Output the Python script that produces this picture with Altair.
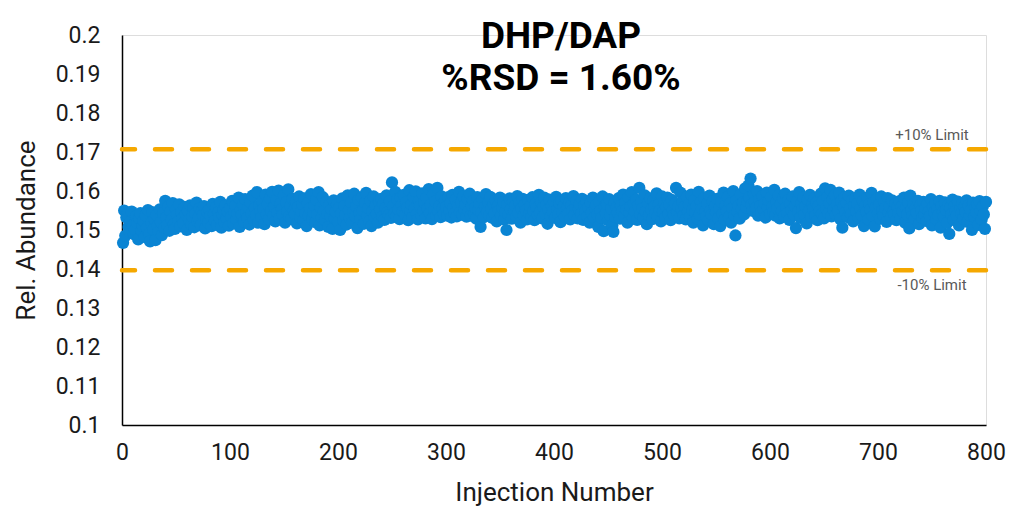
import altair as alt
import pandas as pd

# Relative abundance per injection, in units of 1e-4 (e.g. 1552 -> 0.1552), injections 1..800
rel_abundance_x1e4 = [
    1467,1550,1485,1532,1541,1508,1495,1522,1547,1513,1489,1501,1535,1518,1476,1529,1543,1498,1510,1524,
    1482,1537,1505,1551,1490,1471,1519,1546,1502,1528,1474,1539,1511,1495,1553,1520,1487,1544,1506,1575,
    1532,1512,1561,1498,1547,1527,1569,1515,1503,1552,1538,1521,1566,1509,1545,1530,1517,1559,1541,1500,
    1548,1526,1563,1514,1535,1557,1507,1543,1570,1522,1531,1555,1512,1549,1538,1561,1504,1528,1546,1519,
    1553,1536,1510,1567,1541,1524,1558,1513,1545,1532,1572,1506,1539,1551,1520,1563,1529,1547,1511,1556,
    1534,1575,1517,1548,1562,1527,1541,1583,1508,1552,1538,1566,1521,1579,1545,1531,1559,1514,1570,1543,
    1588,1526,1556,1537,1597,1519,1563,1548,1532,1574,1554,1515,1591,1540,1566,1527,1582,1549,1598,1536,
    1560,1522,1577,1545,1601,1530,1568,1553,1539,1589,1519,1571,1547,1604,1535,1562,1528,1580,1550,1541,
    1573,1517,1559,1586,1532,1548,1566,1524,1581,1543,1510,1569,1537,1555,1592,1527,1546,1563,1520,1578,
    1540,1597,1512,1558,1533,1584,1549,1525,1572,1541,1508,1564,1536,1553,1503,1576,1529,1547,1566,1521,
    1557,1500,1543,1581,1525,1562,1538,1514,1589,1551,1530,1571,1519,1546,1593,1535,1560,1505,1577,1544,
    1528,1584,1550,1516,1569,1595,1537,1556,1522,1575,1510,1548,1586,1533,1563,1541,1519,1572,1552,1580,
    1534,1567,1526,1557,1589,1545,1538,1574,1531,1622,1561,1543,1598,1536,1579,1552,1528,1583,1564,1547,
    1590,1539,1571,1557,1525,1602,1548,1566,1533,1585,1554,1599,1541,1527,1575,1561,1537,1594,1549,1570,
    1530,1582,1556,1605,1544,1565,1528,1591,1551,1573,1538,1608,1547,1562,1533,1586,1555,1541,1576,1559,
    1537,1584,1549,1569,1532,1590,1556,1543,1578,1535,1563,1598,1545,1571,1539,1587,1553,1566,1534,1580,
    1548,1593,1537,1562,1575,1541,1557,1529,1584,1551,1568,1508,1545,1579,1533,1560,1592,1547,1571,1538,
    1585,1554,1531,1567,1543,1576,1522,1561,1549,1583,1536,1558,1572,1527,1545,1500,1566,1540,1581,1553,
    1529,1574,1548,1562,1535,1587,1544,1570,1519,1556,1580,1538,1565,1550,1527,1577,1543,1561,1532,1584,
    1549,1525,1568,1557,1539,1590,1546,1571,1530,1559,1583,1541,1566,1516,1553,1578,1535,1562,1547,1574,
    1531,1585,1552,1540,1568,1520,1576,1545,1561,1534,1582,1556,1542,1571,1527,1564,1549,1587,1538,1559,
    1575,1530,1553,1567,1541,1580,1526,1562,1548,1574,1535,1558,1519,1570,1545,1583,1532,1556,1564,1540,
    1508,1572,1549,1531,1586,1497,1561,1543,1566,1525,1579,1538,1554,1512,1495,1569,1533,1557,1545,1582,
    1529,1563,1548,1591,1536,1570,1552,1519,1584,1544,1560,1597,1531,1567,1548,1578,1526,1562,1608,1540,
    1573,1555,1533,1589,1547,1515,1569,1538,1581,1553,1528,1575,1561,1542,1594,1534,1566,1550,1522,1586,
    1546,1570,1531,1559,1583,1541,1565,1525,1577,1552,1538,1568,1608,1544,1561,1530,1596,1555,1572,1537,
    1560,1527,1585,1548,1566,1533,1591,1551,1519,1576,1545,1562,1529,1598,1540,1571,1554,1512,1582,1548,
    1535,1567,1524,1588,1550,1539,1574,1515,1561,1545,1580,1530,1556,1510,1572,1541,1596,1527,1563,1549,
    1585,1533,1568,1519,1555,1600,1538,1486,1576,1547,1562,1529,1591,1554,1570,1540,1607,1558,1574,1614,
    1583,1632,1565,1549,1592,1571,1556,1600,1537,1578,1562,1545,1587,1553,1569,1532,1596,1558,1575,1541,
    1584,1560,1546,1603,1537,1572,1555,1589,1530,1566,1548,1581,1535,1593,1557,1543,1577,1526,1568,1551,
    1586,1539,1562,1505,1575,1547,1597,1531,1569,1553,1583,1540,1561,1517,1578,1549,1590,1534,1566,1554,
    1581,1537,1571,1525,1562,1548,1593,1541,1575,1530,1607,1556,1584,1543,1569,1603,1535,1578,1552,1590,
    1539,1566,1549,1596,1528,1574,1506,1559,1584,1545,1570,1533,1588,1555,1540,1576,1522,1562,1581,1547,
    1568,1531,1591,1554,1538,1574,1510,1561,1547,1583,1527,1566,1552,1595,1536,1571,1509,1558,1580,1543,
    1565,1529,1586,1550,1537,1573,1556,1521,1582,1545,1562,1533,1576,1548,1539,1568,1525,1559,1542,1574,
    1530,1561,1547,1583,1519,1556,1540,1570,1504,1588,1551,1536,1566,1528,1557,1543,1575,1515,1563,1549,
    1531,1572,1540,1556,1523,1567,1548,1535,1579,1512,1559,1545,1569,1527,1553,1538,1575,1506,1562,1546,
    1533,1571,1551,1518,1564,1490,1557,1540,1578,1526,1561,1549,1537,1573,1512,1555,1543,1568,1529,1559,
    1546,1576,1521,1563,1538,1552,1500,1570,1534,1558,1545,1566,1513,1574,1549,1527,1561,1540,1503,1572,
]

limit_values = [0.1707, 0.1397]
limit_labels = ["+10% Limit", "-10% Limit"]
limit_label_x = [750, 750]
limit_label_y = [0.1743, 0.1359]

x_ticks = [0, 100, 200, 300, 400, 500, 600, 700, 800]
y_ticks = [0.10, 0.11, 0.12, 0.13, 0.14, 0.15, 0.16, 0.17, 0.18, 0.19, 0.20]

points = pd.DataFrame({
    "injection": list(range(1, len(rel_abundance_x1e4) + 1)),
    "abundance": [v / 10000 for v in rel_abundance_x1e4],
})
limits = pd.DataFrame({"limit": limit_values})
labels = pd.DataFrame({"x": limit_label_x, "y": limit_label_y, "text": limit_labels})

FONT = "Roboto"

x_scale = alt.Scale(domain=[0, 800], nice=False, zero=False)
y_scale = alt.Scale(domain=[0.1, 0.2], nice=False, zero=False)

x_axis = alt.Axis(values=x_ticks, title="Injection Number", grid=False, ticks=False,
                  labelFlush=False, labelOverlap=False,
                  domainColor="#000000", domainWidth=1.5, labelFontSize=23,
                  labelColor="#1a1a1a", labelPadding=16, titleFontSize=26,
                  titleColor="#1a1a1a", titleFontWeight="normal", titlePadding=15,
                  labelFont=FONT, titleFont=FONT)
y_axis = alt.Axis(values=y_ticks, title="Rel. Abundance", grid=False, ticks=False,
                  labelFlush=False, labelOverlap=False,
                  format="~g", domainColor="#000000", domainWidth=1.5,
                  labelFontSize=23, labelColor="#1a1a1a", labelPadding=22,
                  titleFontSize=26, titleColor="#1a1a1a", titleFontWeight="normal",
                  titlePadding=16, labelFont=FONT, titleFont=FONT)

scatter = alt.Chart(points).mark_circle(size=150, color="#0A84D3", opacity=1).encode(
    x=alt.X("injection:Q", scale=x_scale, axis=x_axis),
    y=alt.Y("abundance:Q", scale=y_scale, axis=y_axis),
)

rules = alt.Chart(limits).mark_rule(
    color="#F5A800", strokeWidth=4.5, strokeDash=[17, 20], strokeCap="round"
).encode(y=alt.Y("limit:Q", scale=y_scale, axis=y_axis))

texts = alt.Chart(labels).mark_text(
    font=FONT, fontSize=15, color="#595959", align="center", baseline="middle"
).encode(
    x=alt.X("x:Q", scale=x_scale, axis=x_axis),
    y=alt.Y("y:Q", scale=y_scale, axis=y_axis),
    text="text:N",
)

chart = alt.layer(scatter, rules, texts).properties(
    width=864,
    height=390,
    autosize=alt.AutoSizeParams(type="none"),
    padding={"left": 122, "top": 35, "right": 23, "bottom": 82},
    title=alt.Title(
        text=["DHP/DAP", "%RSD = 1.60%"],
        font=FONT, fontSize=37, fontWeight="bold", color="#000000",
        anchor="middle", frame="group", offset=-74, lineHeight=42, dx=7,
    ),
).configure_view(stroke=None).configure(background="#ffffff")

chart.save("out.html", embed_options={"renderer": "svg", "actions": False})
